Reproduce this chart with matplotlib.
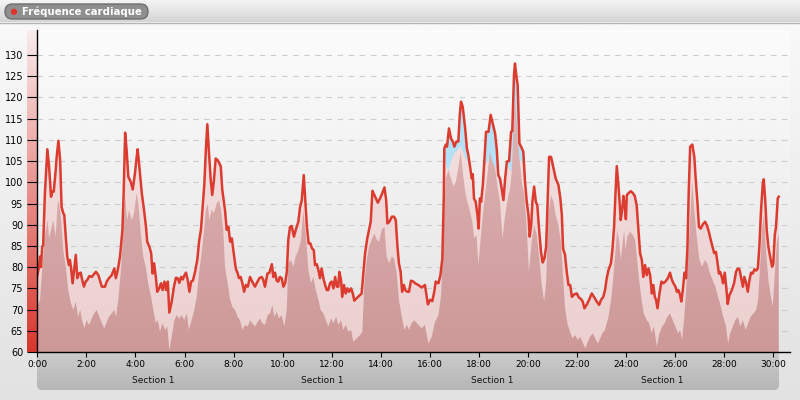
import numpy as np
import matplotlib
matplotlib.use('Agg')
import matplotlib.pyplot as plt
from matplotlib.patches import FancyBboxPatch, Circle

# heart rate trace (minutes, bpm)
hr_t = [0.00, 0.07, 0.11, 0.15, 0.20, 0.24, 0.31, 0.41, 0.48, 0.56, 0.61, 0.67, 0.75, 0.79, 0.86, 0.93,
        0.99, 1.06, 1.10, 1.16, 1.22, 1.29, 1.33, 1.37, 1.44, 1.50, 1.57, 1.63, 1.70, 1.77, 1.83, 1.90,
        1.97, 2.04, 2.12, 2.22, 2.30, 2.39, 2.49, 2.57, 2.63, 2.69, 2.76, 2.83, 2.92, 3.03, 3.14, 3.20,
        3.28, 3.37, 3.47, 3.52, 3.58, 3.64, 3.71, 3.81, 3.89, 3.98, 4.05, 4.09, 4.16, 4.26, 4.35, 4.43,
        4.48, 4.57, 4.64, 4.70, 4.76, 4.83, 4.89, 4.97, 5.04, 5.11, 5.18, 5.25, 5.32, 5.38, 5.48, 5.57,
        5.65, 5.72, 5.79, 5.86, 5.93, 5.99, 6.06, 6.13, 6.20, 6.27, 6.34, 6.43, 6.52, 6.60, 6.67, 6.74,
        6.81, 6.87, 6.93, 7.00, 7.07, 7.13, 7.20, 7.27, 7.34, 7.41, 7.48, 7.54, 7.65, 7.72, 7.79, 7.86,
        7.93, 7.99, 8.09, 8.17, 8.22, 8.29, 8.36, 8.43, 8.50, 8.58, 8.67, 8.76, 8.87, 8.98, 9.05, 9.15,
        9.21, 9.28, 9.38, 9.46, 9.56, 9.62, 9.69, 9.76, 9.82, 9.89, 9.96, 10.03, 10.10, 10.17, 10.23, 10.30,
        10.37, 10.46, 10.55, 10.64, 10.71, 10.78, 10.86, 10.93, 10.99, 11.06, 11.13, 11.20, 11.27, 11.32,
        11.39, 11.46, 11.52, 11.59, 11.66, 11.73, 11.80, 11.86, 11.93, 12.00, 12.07, 12.14, 12.21, 12.27,
        12.31, 12.38, 12.43, 12.50, 12.57, 12.64, 12.71, 12.79, 12.86, 12.92, 13.02, 13.13, 13.22, 13.29,
        13.36, 13.45, 13.53, 13.59, 13.66, 13.77, 13.88, 13.97, 14.06, 14.15, 14.22, 14.27, 14.35, 14.45,
        14.54, 14.61, 14.68, 14.74, 14.81, 14.87, 14.94, 15.00, 15.08, 15.15, 15.23, 15.33, 15.40, 15.53,
        15.67, 15.80, 15.92, 16.01, 16.10, 16.18, 16.24, 16.35, 16.43, 16.51, 16.57, 16.59, 16.65, 16.70,
        16.78, 16.86, 16.95, 17.00, 17.08, 17.16, 17.22, 17.27, 17.34, 17.44, 17.51, 17.57, 17.64, 17.71,
        17.75, 17.80, 17.87, 17.94, 17.99, 18.04, 18.09, 18.16, 18.22, 18.29, 18.39, 18.48, 18.56, 18.66,
        18.73, 18.79, 18.86, 18.93, 19.00, 19.07, 19.14, 19.23, 19.31, 19.36, 19.43, 19.47, 19.53, 19.58,
        19.65, 19.72, 19.81, 19.88, 19.95, 20.02, 20.07, 20.13, 20.18, 20.25, 20.32, 20.38, 20.45, 20.53,
        20.60, 20.67, 20.74, 20.81, 20.86, 20.94, 21.04, 21.13, 21.24, 21.32, 21.38, 21.43, 21.51, 21.58,
        21.65, 21.72, 21.79, 21.89, 21.99, 22.08, 22.16, 22.23, 22.30, 22.40, 22.49, 22.60, 22.71, 22.80,
        22.90, 22.98, 23.07, 23.14, 23.21, 23.28, 23.38, 23.44, 23.51, 23.56, 23.62, 23.69, 23.73, 23.78,
        23.84, 23.89, 23.95, 23.99, 24.03, 24.11, 24.19, 24.27, 24.35, 24.43, 24.50, 24.57, 24.64, 24.70,
        24.77, 24.84, 24.91, 24.98, 25.05, 25.11, 25.17, 25.22, 25.28, 25.36, 25.44, 25.52, 25.60, 25.70,
        25.79, 25.86, 25.93, 26.01, 26.07, 26.13, 26.20, 26.25, 26.31, 26.38, 26.44, 26.50, 26.55, 26.61,
        26.70, 26.78, 26.84, 26.91, 26.97, 27.04, 27.13, 27.22, 27.29, 27.37, 27.45, 27.52, 27.59, 27.66,
        27.72, 27.78, 27.83, 27.90, 27.95, 28.02, 28.08, 28.14, 28.21, 28.31, 28.40, 28.48, 28.55, 28.62,
        28.69, 28.76, 28.82, 28.89, 28.96, 29.03, 29.09, 29.16, 29.23, 29.30, 29.37, 29.43, 29.50, 29.57,
        29.61, 29.67, 29.73, 29.80, 29.87, 29.95, 30.00, 30.06, 30.11, 30.18, 30.22]
hr_v = [78.1, 80.1, 82.5, 80.0, 84.8, 85.2, 97.5, 107.8, 103.7, 96.6, 97.8, 97.8, 102.9, 106.0, 109.8, 105.3,
        94.2, 92.7, 92.3, 87.2, 82.5, 80.5, 81.7, 80.1, 76.2, 79.3, 82.9, 77.4, 78.5, 78.7, 77.0, 75.4,
        76.6, 77.0, 77.9, 77.7, 78.3, 78.9, 78.1, 76.6, 75.4, 75.4, 75.4, 76.6, 77.4, 78.1, 79.7, 77.4,
        79.3, 82.5, 88.8, 97.4, 111.7, 107.6, 101.3, 100.1, 98.3, 102.1, 106.0, 107.8, 103.7, 97.4, 93.5, 89.5,
        86.0, 84.8, 83.3, 78.5, 80.9, 77.7, 74.2, 75.0, 76.2, 74.6, 76.6, 74.6, 76.6, 69.3, 71.9, 75.4,
        77.5, 77.4, 76.3, 77.7, 77.1, 78.0, 78.7, 77.0, 74.2, 76.6, 76.8, 78.9, 81.7, 86.4, 88.8, 94.2,
        99.7, 107.6, 113.7, 106.8, 100.5, 97.0, 100.5, 105.6, 105.3, 104.6, 103.7, 98.2, 93.5, 88.8, 89.5, 86.0,
        86.8, 84.0, 79.7, 78.5, 77.4, 77.7, 76.2, 74.2, 75.8, 75.4, 77.7, 76.6, 75.4, 76.6, 77.4, 77.7,
        77.0, 75.4, 78.5, 78.7, 80.7, 77.7, 78.7, 76.8, 76.6, 77.7, 77.4, 75.4, 76.2, 78.9, 86.4, 89.5,
        89.7, 87.2, 89.1, 90.7, 94.2, 95.8, 101.7, 95.0, 89.5, 85.6, 85.6, 84.4, 84.0, 80.5,
        80.7, 79.3, 77.4, 79.7, 77.4, 75.8, 74.6, 74.6, 76.2, 76.6, 75.0, 77.7, 75.4, 75.4,
        78.9, 77.0, 73.0, 75.8, 73.8, 75.0, 74.2, 75.0, 73.8, 72.1, 72.7, 73.3, 73.8, 78.5,
        83.3, 86.8, 89.1, 90.7, 98.0, 96.6, 95.2, 96.2, 97.4, 98.8, 95.8, 90.3, 90.7, 91.9,
        91.9, 91.1, 84.8, 80.9, 78.9, 74.2, 75.8, 74.6, 74.2, 74.2, 76.8, 76.6, 76.2, 75.8,
        75.2, 75.8, 71.2, 72.3, 72.0, 74.2, 76.6, 76.2, 78.1, 82.1, 97.0, 108.0, 108.9, 108.4,
        112.7, 110.4, 109.4, 108.4, 109.6, 109.6, 115.9, 119.0, 117.8, 112.7, 108.0, 106.4, 103.7, 100.9,
        101.9, 96.2, 95.4, 92.3, 89.1, 96.2, 95.4, 99.4, 104.9, 111.9, 111.9, 115.9, 113.9, 111.5,
        107.6, 101.7, 100.9, 98.5, 95.8, 100.9, 104.9, 105.0, 111.9, 112.1, 125.3, 128.0, 124.9, 122.9,
        109.2, 108.4, 107.2, 100.1, 95.4, 92.3, 87.2, 89.9, 95.4, 99.0, 95.4, 94.6, 89.1, 83.6,
        81.1, 82.1, 84.8, 97.0, 106.0, 106.0, 103.3, 100.9, 99.4, 96.2, 92.3, 84.4, 82.9, 78.9,
        75.8, 75.8, 73.0, 73.6, 73.8, 72.8, 72.5, 71.9, 70.3, 71.2, 72.3, 73.8, 72.8, 71.9,
        71.1, 72.3, 73.0, 74.6, 77.4, 79.3, 80.9, 84.0, 89.5, 96.6, 103.8, 99.0, 95.8, 91.1,
        93.5, 96.8, 94.2, 91.3, 97.0, 97.5, 97.9, 97.5, 96.8, 94.6, 88.8, 83.3, 81.7, 77.7,
        80.5, 78.1, 79.7, 78.1, 73.8, 75.8, 73.0, 72.3, 70.3, 73.8, 76.6, 76.2, 76.6, 77.4,
        78.7, 77.1, 76.2, 75.4, 74.2, 74.6, 73.4, 71.9, 74.6, 78.7, 77.4, 84.8, 97.4, 108.4,
        108.9, 106.0, 100.5, 95.0, 89.5, 89.1, 90.1, 90.7, 89.9, 88.4, 86.4, 84.8, 83.3, 83.6,
        81.3, 78.5, 78.9, 77.7, 76.2, 78.7, 75.4, 71.3, 73.4, 74.6, 76.2, 78.9, 79.7, 79.5,
        77.4, 75.4, 77.7, 76.3, 74.2, 77.0, 78.7, 78.5, 79.5, 79.2, 79.7, 84.8, 93.5, 99.7,
        100.7, 95.8, 88.8, 84.8, 82.5, 80.1, 80.9, 87.6, 89.5, 96.2, 96.6]

# lower (darker) band
base_t = [0.00, 0.11, 0.20, 0.31, 0.42, 0.48, 0.56, 0.65, 0.75, 0.83, 0.88, 0.97, 1.06, 1.16, 1.26, 1.37,
          1.47, 1.57, 1.66, 1.75, 1.82, 1.92, 2.01, 2.11, 2.22, 2.32, 2.42, 2.53, 2.63, 2.73, 2.83, 2.92,
          3.03, 3.14, 3.21, 3.30, 3.41, 3.51, 3.58, 3.66, 3.74, 3.85, 3.94, 4.05, 4.12, 4.23, 4.32, 4.42,
          4.52, 4.64, 4.73, 4.83, 4.91, 5.00, 5.10, 5.21, 5.30, 5.38, 5.48, 5.59, 5.68, 5.78, 5.89, 5.99,
          6.09, 6.18, 6.29, 6.40, 6.50, 6.59, 6.70, 6.80, 6.87, 6.95, 7.01, 7.11, 7.20, 7.31, 7.41, 7.49,
          7.58, 7.65, 7.76, 7.86, 7.95, 8.06, 8.17, 8.26, 8.36, 8.47, 8.58, 8.67, 8.76, 8.87, 8.98, 9.08,
          9.17, 9.28, 9.39, 9.49, 9.58, 9.66, 9.76, 9.85, 9.96, 10.07, 10.17, 10.23, 10.34, 10.44, 10.53,
          10.64, 10.75, 10.84, 10.94, 11.05, 11.16, 11.25, 11.35, 11.46, 11.55, 11.66, 11.76, 11.86, 11.97,
          12.07, 12.18, 12.27, 12.38, 12.47, 12.57, 12.68, 12.79, 12.88, 13.02, 13.16, 13.25, 13.33, 13.43,
          13.52, 13.63, 13.73, 13.84, 13.93, 14.04, 14.15, 14.24, 14.34, 14.45, 14.54, 14.65, 14.74, 14.86,
          14.96, 15.06, 15.15, 15.26, 15.37, 15.53, 15.67, 15.80, 15.94, 16.08, 16.21, 16.35, 16.46, 16.55,
          16.65, 16.76, 16.86, 16.96, 17.06, 17.16, 17.26, 17.34, 17.44, 17.53, 17.64, 17.73, 17.81, 17.90,
          17.98, 18.06, 18.16, 18.25, 18.36, 18.45, 18.55, 18.66, 18.77, 18.86, 18.96, 19.07, 19.18, 19.27,
          19.34, 19.42, 19.47, 19.54, 19.64, 19.75, 19.85, 19.95, 20.04, 20.15, 20.25, 20.36, 20.45, 20.56,
          20.66, 20.74, 20.83, 20.94, 21.04, 21.13, 21.24, 21.34, 21.42, 21.51, 21.62, 21.72, 21.81, 21.92,
          22.03, 22.12, 22.22, 22.33, 22.44, 22.53, 22.64, 22.74, 22.85, 22.94, 23.03, 23.14, 23.28, 23.39,
          23.48, 23.56, 23.64, 23.73, 23.78, 23.84, 23.92, 23.97, 24.05, 24.16, 24.27, 24.37, 24.45, 24.53,
          24.63, 24.72, 24.84, 24.94, 25.04, 25.13, 25.25, 25.36, 25.47, 25.57, 25.68, 25.79, 25.90, 26.01,
          26.12, 26.20, 26.28, 26.36, 26.44, 26.53, 26.61, 26.69, 26.77, 26.88, 26.99, 27.10, 27.21, 27.31,
          27.42, 27.53, 27.64, 27.75, 27.86, 27.96, 28.07, 28.16, 28.24, 28.35, 28.45, 28.56, 28.65, 28.76,
          28.87, 28.97, 29.08, 29.19, 29.30, 29.38, 29.46, 29.54, 29.62, 29.71, 29.80, 29.90, 29.98, 30.06,
          30.14, 30.22]
base_v = [70.7, 72.3, 79.3, 87.2, 91.1, 86.8, 88.8, 91.1, 87.2, 95.0, 95.8, 91.1, 84.0, 80.1, 74.6, 71.5,
          69.9, 71.9, 68.3, 69.9, 67.5, 65.6, 67.5, 66.4, 67.9, 69.1, 69.9, 68.3, 66.8, 65.6, 67.1, 68.3,
          69.1, 69.9, 68.3, 72.3, 79.3, 88.8, 96.6, 91.1, 93.5, 91.1, 92.7, 97.4, 95.0, 87.2, 82.5, 80.1,
          76.2, 73.0, 69.9, 66.8, 67.5, 64.8, 66.8, 65.2, 66.0, 60.5, 63.6, 67.5, 68.7, 67.9, 68.7, 67.5,
          69.1, 65.2, 67.5, 69.9, 73.0, 78.5, 83.3, 88.8, 93.5, 95.0, 91.1, 93.5, 92.7, 95.0, 95.8, 93.5,
          88.8, 80.1, 76.2, 72.3, 70.7, 69.9, 68.3, 67.5, 65.2, 66.4, 66.0, 67.5, 66.8, 66.0, 67.1, 67.9,
          66.8, 66.4, 68.7, 69.1, 71.1, 68.3, 69.5, 67.9, 68.7, 66.0, 69.9, 80.9, 81.7, 80.1, 82.5,
          84.0, 86.4, 93.5, 88.0, 79.3, 76.2, 77.7, 74.6, 72.3, 69.9, 69.1, 67.5, 66.0, 67.9,
          66.8, 68.3, 66.4, 67.5, 65.2, 66.4, 64.8, 65.2, 62.4, 63.2, 64.0, 64.8, 76.2, 81.7,
          84.8, 86.4, 88.0, 86.4, 86.0, 88.8, 89.5, 82.5, 80.9, 82.5, 82.1, 78.5, 72.3, 68.3,
          65.2, 66.4, 65.2, 66.8, 67.5, 66.4, 65.6, 66.4, 62.0, 63.6, 67.1, 68.7, 73.4, 86.8,
          100.9, 102.9, 100.9, 99.0, 100.1, 103.3, 107.2, 102.5, 97.8, 95.4, 93.1, 90.7, 86.8, 87.6,
          80.5, 86.0, 92.3, 97.0, 102.5, 107.2, 104.9, 103.3, 98.5, 95.4, 86.8, 92.3, 96.2, 98.5,
          102.5, 114.3, 119.8, 113.5, 106.4, 100.1, 97.0, 89.1, 78.9, 86.0, 89.9, 87.6, 82.9, 75.8,
          71.9, 76.6, 92.3, 97.0, 95.4, 92.3, 89.9, 86.0, 78.9, 70.3, 66.4, 64.8, 63.2, 64.0,
          62.8, 63.6, 62.4, 60.9, 62.4, 63.6, 64.4, 63.2, 62.0, 63.2, 64.4, 65.2, 68.3, 72.3,
          77.7, 83.3, 88.8, 85.6, 81.7, 84.8, 88.8, 84.0, 87.2, 88.4, 87.6, 86.4, 81.7, 77.0,
          72.3, 69.1, 67.5, 66.8, 64.4, 66.0, 61.3, 64.4, 66.0, 66.8, 68.3, 69.1, 67.5, 66.0,
          64.4, 65.2, 62.8, 67.5, 73.8, 83.3, 91.1, 100.5, 94.2, 87.2, 81.7, 80.1, 81.7, 80.9,
          78.5, 76.9, 75.4, 73.0, 70.7, 68.3, 66.0, 62.0, 64.4, 66.0, 67.5, 68.3, 66.0, 67.5,
          65.2, 66.8, 68.3, 69.1, 69.9, 72.3, 80.1, 88.8, 92.7, 83.3, 77.0, 73.0, 70.7, 78.5,
          85.6, 88.0]

# upper edge of the pale band where the trace goes above it (nan = no gap)
zone_t = [16.59, 16.69, 16.78, 16.86, 16.96, 17.06, 17.14, 17.23, 17.30, 17.37, 17.46, 17.55, 17.64, 17.90,
          18.12, 18.18, 18.28, 18.39, 18.50, 18.59, 18.69, 18.77, 18.86, 19.05,
          19.23, 19.31, 19.39, 19.46, 19.53, 19.61, 19.72, 19.81, 19.88]
zone_v = [106.4, 103.3, 102.9, 104.9, 106.4, 107.2, 107.6, 108.5, 108.0, 106.8, 105.5, 105.0, 103.3, np.nan,
          98.5, 102.0, 104.5, 105.2, 104.8, 104.2, 103.5, 101.3, 98.5, np.nan,
          103.3, 102.5, 104.0, 108.0, 110.0, 106.0, 105.0, 104.1, 99.4]

y_ticks = list(range(60, 131, 5))
x_ticks = list(range(0, 31, 2))
x_labels = [f'{m}:00' for m in x_ticks]
section_names = ['Section 1', 'Section 1', 'Section 1', 'Section 1']
section_mid = [4.72, 11.61, 18.54, 25.46]

W, H = 800, 400
fig = plt.figure(figsize=(8, 4), dpi=100)


def vgrad(top, bot, n=256):
    g = np.linspace(0, 1, n)[:, None, None]
    top = np.array(top, float) / 255
    bot = np.array(bot, float) / 255
    return top + (bot - top) * g  # row 0 = top


# background layer in pixel coordinates
bg = fig.add_axes([0, 0, 1, 1])
bg.set_xlim(0, W)
bg.set_ylim(H, 0)
bg.axis('off')
bg.imshow(vgrad((250, 250, 250), (226, 226, 226)), extent=(0, W, H, 0), aspect='auto', origin='upper')
# header
bg.imshow(vgrad((245, 245, 245), (212, 212, 212)), extent=(0, W, 22, 0), aspect='auto', origin='upper')
bg.plot([0, W], [22.5, 22.5], color='#b4b4b4', lw=1)
pill = FancyBboxPatch((5, 4), 143, 15, boxstyle='round,pad=0,rounding_size=7.5',
                      facecolor='#8f8f8f', edgecolor='#6f6f6f', lw=1)
bg.add_patch(pill)
bg.add_patch(Circle((14, 11.8), 2.4, color='#e0342a'))
bg.text(22, 12, 'Fréquence cardiaque', color='white', fontsize=7.3, fontweight='bold',
        va='center', ha='left')
# plot area background
bg.imshow(vgrad((252, 252, 252), (228, 228, 228)), extent=(37, 790, 352, 30), aspect='auto', origin='upper')
# section band under the axis
band = FancyBboxPatch((37, 335), 742, 55, boxstyle='round,pad=0,rounding_size=5',
                      facecolor='none', edgecolor='none')
bg.add_patch(band)
im = bg.imshow(vgrad((214, 214, 214), (182, 182, 182)), extent=(37, 779, 390, 335), aspect='auto', origin='upper')
im.set_clip_path(band)
# colour scale strip on the left
bg.imshow(vgrad((249, 236, 236), (216, 54, 44)), extent=(27, 37, 352, 30), aspect='auto', origin='upper')

# main chart
ax = fig.add_axes([37.3 / W, 48 / H, 752.7 / W, 322 / H])
ax.patch.set_visible(False)
ymin, ymax = 60, 135.9
xmax = 30.68

t = np.array(hr_t)
v = np.array(hr_v)


def grad_fill(x, y, top, bot, z):
    coll = ax.fill_between(x, ymin, y, facecolor='none', edgecolor='none', zorder=z)
    img = ax.imshow(vgrad(top, bot), extent=(x[0], x[-1], ymin, 130), aspect='auto',
                    origin='upper', zorder=z, interpolation='bilinear')
    img.set_clip_path(coll.get_paths()[0], transform=ax.transData)


grad_fill(t, v, (245, 226, 226), (236, 208, 208), 2)
zone_on_hr = np.interp(t, zone_t, zone_v, left=np.nan, right=np.nan)
mask = ~np.isnan(zone_on_hr) & (v > zone_on_hr)
ax.fill_between(t, np.where(mask, zone_on_hr, v), v, where=mask, facecolor='#b4e1f7',
                edgecolor='none', interpolate=True, zorder=3)
grad_fill(np.array(base_t), np.array(base_v), (226, 186, 186), (205, 152, 152), 4)
ax.plot(t, v, color='#dc3b2f', lw=1.8, zorder=6, solid_joinstyle='round')

for yv in y_ticks[1:]:
    ax.axhline(yv, color='#cdcdcd', lw=0.8, ls=(0, (5, 5)), zorder=1)

ax.set_xlim(0, xmax)
ax.set_ylim(ymin, ymax)
ax.set_yticks(y_ticks)
ax.set_xticks(x_ticks)
ax.set_xticklabels(x_labels)
ax.tick_params(axis='y', direction='out', length=7.2, width=0.8, labelsize=7, pad=3)
ax.tick_params(axis='x', direction='out', length=3.6, width=0.8, labelsize=6.5, pad=2.5)
for s in ('top', 'right'):
    ax.spines[s].set_visible(False)
for s in ('left', 'bottom'):
    ax.spines[s].set_linewidth(1)
    ax.spines[s].set_zorder(7)

for name, m in zip(section_names, section_mid):
    ax.text(m, -0.09, name, transform=ax.get_xaxis_transform(), ha='center', va='center',
            fontsize=6.5, color='#111111')

fig.savefig('out.png', dpi=100)
